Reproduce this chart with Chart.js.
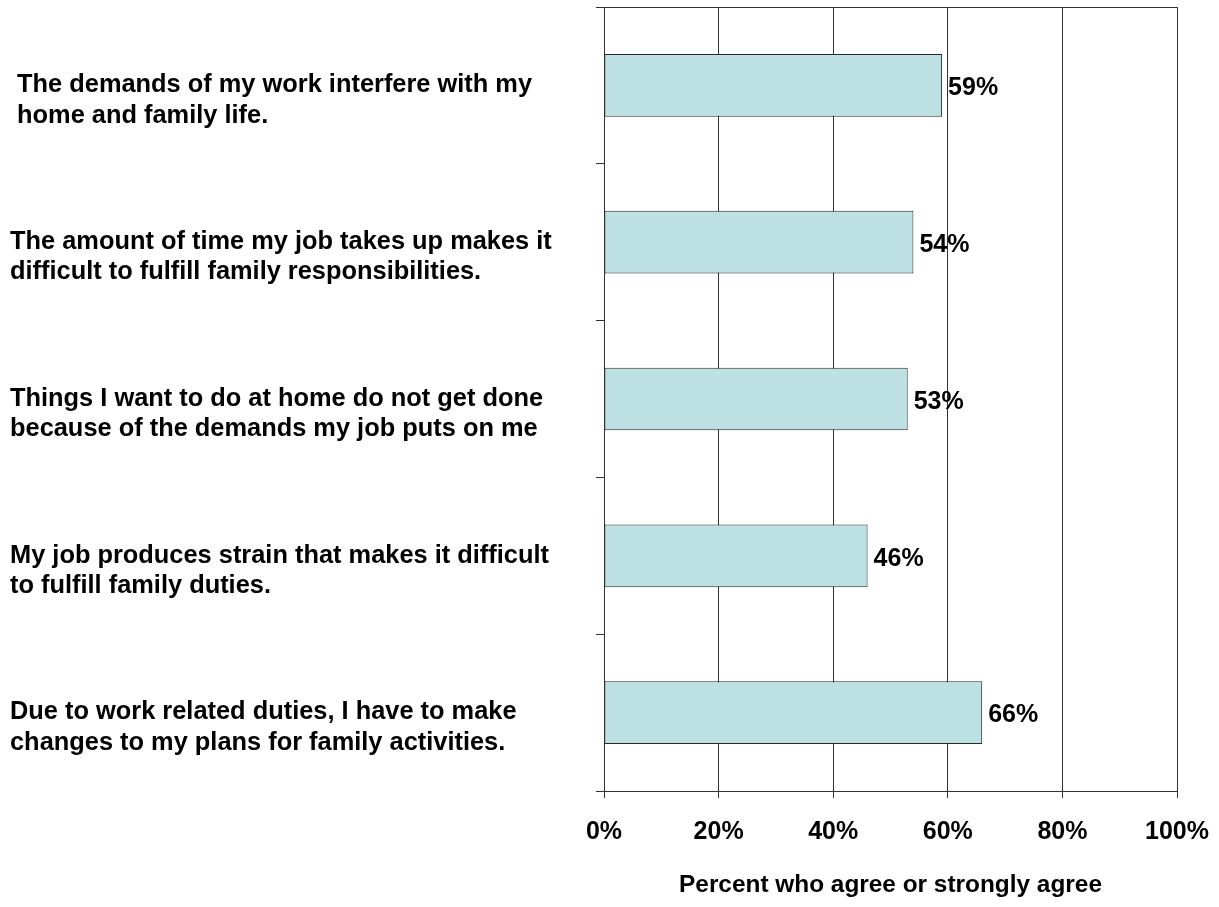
<!DOCTYPE html>
<html>
<head>
<meta charset="utf-8">
<script src="https://cdn.jsdelivr.net/npm/chart.js@4/dist/chart.umd.min.js"></script>
<style>
    html, body { margin: 0; padding: 0; background: #fff; }
    #wrap { width: 1219px; height: 907px; position: relative; }
</style>
</head>
<body>
<div id="wrap"><canvas id="workFamilyChart"></canvas></div>
<script>
// 設問ラベル（2行ずつ）
const statements = [
    [' The demands of my work interfere with my', ' home and family life.'],
    ['The amount of time my job takes up makes it', 'difficult to fulfill family responsibilities.'],
    ['Things I want to do at home do not get done', 'because of the demands my job puts on me'],
    ['My job produces strain that makes it difficult', 'to fulfill family duties.'],
    ['Due to work related duties, I have to make', 'changes to my plans for family activities.']
];
// 「同意」「強く同意」の割合
const agreePercent = [59, 54, 53, 46, 66];
const axisTitle = 'Percent who agree or strongly agree';

document.addEventListener('DOMContentLoaded', function () {
    const ctx = document.getElementById('workFamilyChart');
    if (!ctx) return;

    const fontFamily = '"Liberation Sans", Arial, sans-serif';
    const lineColor = '#333';

    // バーの右側に値ラベルを描く
    const valueLabels = {
        id: 'valueLabels',
        afterDatasetsDraw(chart) {
            const c = chart.ctx;
            const meta = chart.getDatasetMeta(0);
            c.save();
            c.font = 'bold 25px ' + fontFamily;
            c.fillStyle = '#000';
            c.textAlign = 'left';
            c.textBaseline = 'middle';
            meta.data.forEach(function (bar, i) {
                c.fillText(agreePercent[i] + '%', bar.x + 6, bar.y + 3);
            });
            c.restore();
        }
    };

    new Chart(ctx, {
        type: 'bar',
        data: {
            labels: statements,
            datasets: [{
                data: agreePercent,
                backgroundColor: '#bde0e3',
                borderColor: '#2a2a2a',
                borderWidth: 1,
                borderSkipped: false,
                categoryPercentage: 1.0,
                barPercentage: 0.4
            }]
        },
        options: {
            indexAxis: 'y',
            animation: false,
            responsive: true,
            maintainAspectRatio: false,
            devicePixelRatio: 1,
            layout: { padding: { left: 10, right: 0, top: 7, bottom: 0 } },
            plugins: {
                legend: { display: false },
                tooltip: { enabled: false }
            },
            scales: {
                x: {
                    min: 0,
                    max: 100,
                    position: 'bottom',
                    afterFit(scale) {
                        scale.height = 116;
                        scale.paddingLeft = 0;
                        scale.paddingRight = 42;
                    },
                    ticks: {
                        stepSize: 20,
                        padding: 19,
                        color: '#000',
                        font: { family: fontFamily, size: 25, weight: 'bold' },
                        callback: function (v) { return v + '%'; }
                    },
                    grid: { color: lineColor, lineWidth: 1, tickLength: 7 },
                    border: { display: true, color: lineColor, width: 1 },
                    title: {
                        display: true,
                        text: axisTitle,
                        color: '#000',
                        padding: { top: 0, bottom: 7 },
                        font: { family: fontFamily, size: 24.4, weight: 'bold' }
                    }
                },
                xTop: {
                    type: 'linear',
                    min: 0,
                    max: 100,
                    position: 'top',
                    afterFit(scale) { scale.height = 0; },
                    ticks: { display: false },
                    grid: { display: false, drawTicks: false },
                    border: { display: true, color: lineColor, width: 1 }
                },
                y: {
                    afterFit(scale) {
                        scale.width = 594;
                        scale.paddingTop = 0;
                        scale.paddingBottom = 0;
                    },
                    ticks: {
                        crossAlign: 'far',
                        labelOffset: 15,
                        color: '#000',
                        font: { family: fontFamily, size: 25.4, weight: 'bold', lineHeight: 1.2 }
                    },
                    grid: { drawOnChartArea: false, color: lineColor, tickLength: 8 },
                    border: { display: true, color: lineColor, width: 1 }
                }
            }
        },
        plugins: [valueLabels]
    });
});
</script>
</body>
</html>
